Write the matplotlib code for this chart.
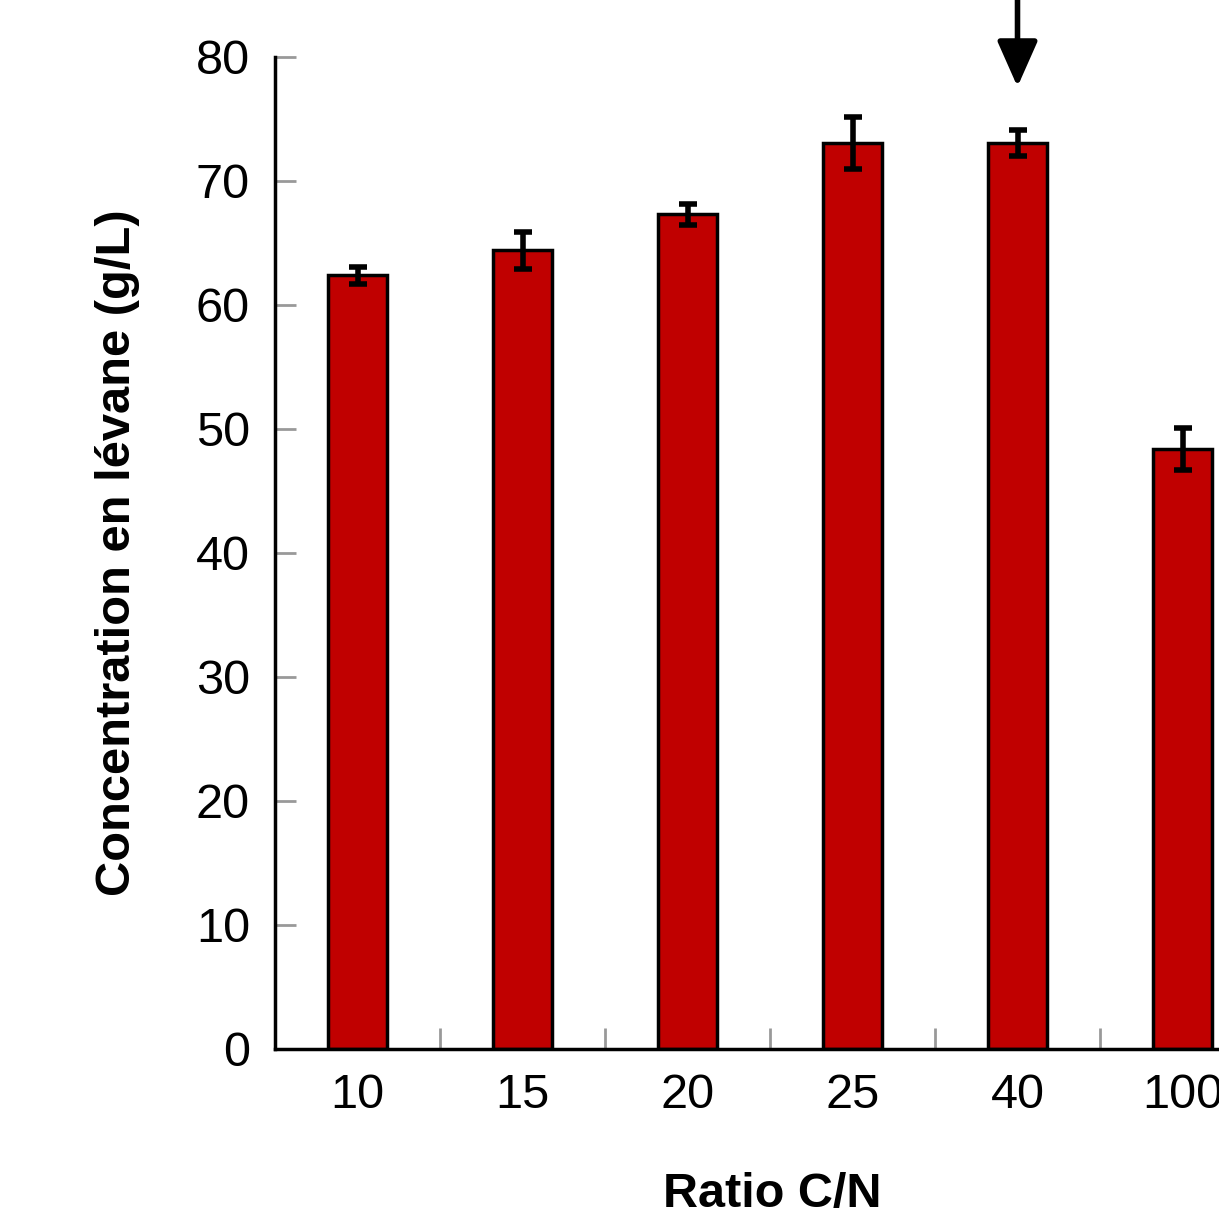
import numpy as np
import matplotlib.pyplot as plt

plt.rcParams['font.family'] = ['Liberation Sans', 'DejaVu Sans']

ratios = ['10', '15', '20', '25', '40', '100']
levane = [62.4, 64.4, 67.3, 73.1, 73.1, 48.4]
errors = [0.7, 1.5, 0.85, 2.1, 1.05, 1.7]

fig = plt.figure(figsize=(12.19, 12.32), dpi=100)
ax = fig.add_axes([275 / 1219, 183 / 1232, 990 / 1219, 992 / 1232])

x = np.arange(len(ratios))
ax.bar(x, levane, width=0.36, color='#C00000', edgecolor='black', linewidth=2.5, zorder=2)
ax.errorbar(x, levane, yerr=errors, fmt='none', ecolor='black', elinewidth=4,
            capsize=6.5, capthick=4, zorder=3)

ax.set_xlim(-0.5, 5.5)
ax.set_ylim(0, 80)
ax.set_yticks(np.arange(0, 81, 10))
ax.set_xticks(x)
ax.set_xticklabels(ratios)
ax.set_xticks(x[:-1] + 0.5, minor=True)

ax.tick_params(axis='y', direction='in', length=15, width=2, color='#999999',
               labelsize=35, pad=18)
ax.tick_params(axis='x', which='major', length=0, labelsize=35, pad=17)
ax.tick_params(axis='x', which='minor', direction='in', length=15, width=2, color='#999999')

for s in ['top', 'right']:
    ax.spines[s].set_visible(False)
for s in ['left', 'bottom']:
    ax.spines[s].set_linewidth(2.5)

fig.text(118 / 1219, 1 - 553 / 1232, 'Concentration en lévane (g/L)', rotation=90,
         fontsize=35.2, fontweight='bold', ha='center', va='center')
fig.text(772 / 1219, 1 - 1195 / 1232, 'Ratio C/N', fontsize=35, fontweight='bold',
         ha='center', va='center')

# arrow pointing at the C/N = 40 bar
ax.annotate('', xy=(4, 77.6), xytext=(4, 90), annotation_clip=False,
            arrowprops=dict(arrowstyle='-|>,head_length=1.4,head_width=0.62',
                            mutation_scale=20, lw=4, color='black',
                            shrinkA=0, shrinkB=0))

fig.savefig('out.png', dpi=100)
